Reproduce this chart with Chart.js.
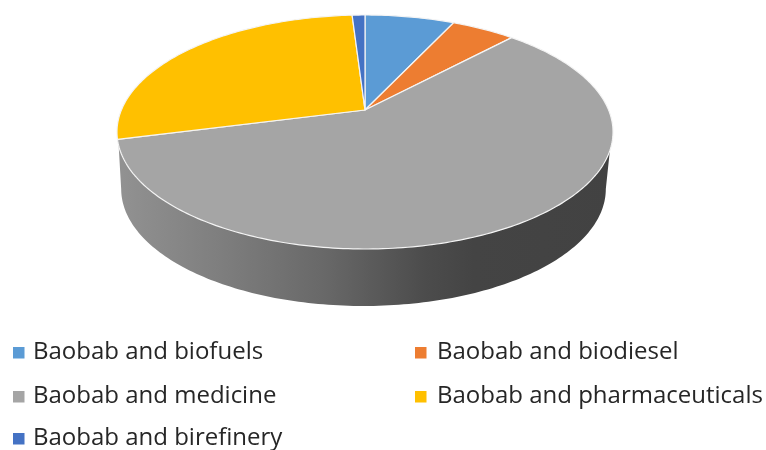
<!DOCTYPE html>
<html>
<head>
<meta charset="utf-8">
<style>
html,body{margin:0;padding:0;background:#fff;overflow:hidden}
canvas{display:block;filter:blur(0.45px)}
</style>
<script src="https://cdn.jsdelivr.net/npm/chart.js@4"></script>
</head>
<body>
<canvas id="c" width="766" height="450"></canvas>
<script>
const categories = ["Baobab and biofuels","Baobab and biodiesel","Baobab and medicine","Baobab and pharmaceuticals","Baobab and birefinery"];
const shares = [7,5,59,28,1];
const sliceColors = ["#5B9BD5","#ED7D31","#A5A5A5","#FFC000","#4472C4"];

// perspective look of the pie top
const K = 0.188, SX = 2.2145, SY = 1.026, DEPTH = 57, BASE = 0.977, BASE_SHIFT = -1.5;
function project(arc, t, shrink, drop){
  const R = arc.outerRadius * (shrink||1), w = 1 - K*Math.sin(t);
  return [arc.x + SX*R*Math.cos(t)/w + (shrink?BASE_SHIFT:0), arc.y + SY*arc.outerRadius*Math.sin(t)/w + (drop||0)];
}
const tilted = {
  id:'tilted',
  beforeDatasetDraw(chart){
    const ctx = chart.ctx, arcs = chart.getDatasetMeta(0).data, ref = arcs[0];
    // side wall
    const g = ctx.createLinearGradient(117,0,613,0);
    g.addColorStop(0,'#929292'); g.addColorStop(0.2,'#7f7f7f'); g.addColorStop(0.42,'#686868');
    g.addColorStop(0.62,'#4c4c4c'); g.addColorStop(0.72,'#444444'); g.addColorStop(1,'#424242');
    ctx.save();
    ctx.beginPath();
    const tr = Math.asin(K), steps = 160;
    for(let i=0;i<=steps;i++){
      const t = tr + (Math.PI-2*tr)*i/steps;
      const p = project(ref,t,BASE,DEPTH);
      i?ctx.lineTo(p[0],p[1]):ctx.moveTo(p[0],p[1]);
    }
    const l = project(ref,Math.PI-tr+0.06), r = project(ref,tr-0.06);
    ctx.lineTo(l[0],l[1]); ctx.lineTo(r[0],r[1]);
    ctx.closePath(); ctx.fillStyle = g; ctx.fill();
    // top slices
    arcs.forEach(arc=>{
      ctx.beginPath(); ctx.moveTo(arc.x,arc.y);
      const n = Math.max(4,Math.ceil((arc.endAngle-arc.startAngle)*60));
      for(let i=0;i<=n;i++){
        const p = project(arc,arc.startAngle+(arc.endAngle-arc.startAngle)*i/n);
        ctx.lineTo(p[0],p[1]);
      }
      ctx.closePath();
      ctx.fillStyle = arc.options.backgroundColor; ctx.fill();
      ctx.strokeStyle = '#f4f4f4'; ctx.lineWidth = 1.2; ctx.lineJoin='round'; ctx.stroke();
    });
    ctx.restore();
    return false;
  },
  afterDraw(chart){
    const ctx = chart.ctx, colors = chart.data.datasets[0].backgroundColor;
    const cols = [[13,33],[415,437]], rows = [359,403,445];
    ctx.save();
    ctx.font = '24px "Open Sans"'; ctx.textBaseline='alphabetic'; ctx.textAlign='left';
    chart.data.labels.forEach((txt,i)=>{
      const c = cols[i%2], y = rows[Math.floor(i/2)];
      ctx.fillStyle = colors[i]; ctx.fillRect(c[0],y-12,11.5,11.5);
      ctx.fillStyle = '#262626'; ctx.fillText(txt,c[1],y);
    });
    ctx.restore();
  }
};
new Chart(document.getElementById('c'),{
  type:'pie',
  data:{labels:categories,datasets:[{data:shares,backgroundColor:sliceColors,borderWidth:0}]},
  options:{
    responsive:false,animation:false,events:[],
    layout:{padding:{left:117,right:153,top:0,bottom:230}},
    plugins:{legend:{display:false},tooltip:{enabled:false},title:{display:false}}
  },
  plugins:[tilted]
});
</script>
</body>
</html>
